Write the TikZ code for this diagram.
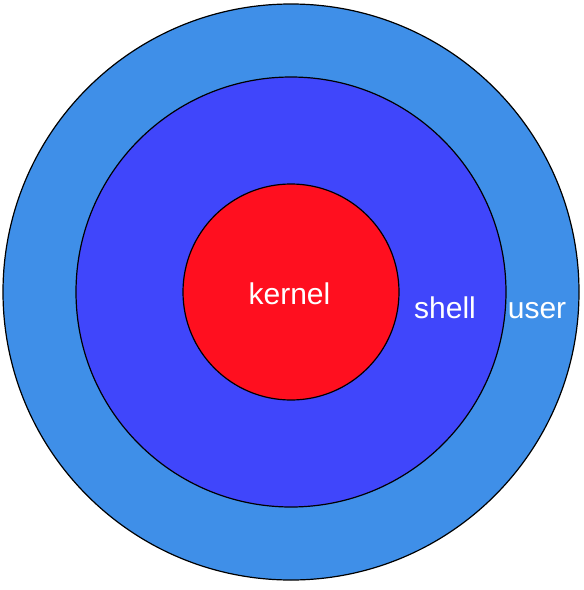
\documentclass[tikz,border=0pt]{standalone}
\usepackage{fontspec}
\setmainfont{Liberation Sans}
\definecolor{usercol}{HTML}{3F8FE8}
\definecolor{shellcol}{HTML}{4046FB}
\definecolor{kernelcol}{HTML}{FF0F1F}
\begin{document}
\begin{tikzpicture}[x=1pt,y=-1pt,
  ring/.style={circle,draw=black,line width=1.2pt,inner sep=0pt},
  lbl/.style={text=white,font=\fontsize{30}{33}\selectfont,anchor=base,inner sep=0pt}]
\useasboundingbox (0,0) rectangle (584,590);
\node[ring,fill=usercol,minimum size=576pt] (user) at (291,292) {};
\node[ring,fill=shellcol,minimum size=430pt] (shell) at (291,292) {};
\node[ring,fill=kernelcol,minimum size=216pt] (kernel) at (291,292) {};
\node[lbl] (tk) at (289.5,304) {kernel};
\node[lbl] (ts) at (445,318) {shell};
\node[lbl] (tu) at (537,318) {user};
\end{tikzpicture}
\end{document}
